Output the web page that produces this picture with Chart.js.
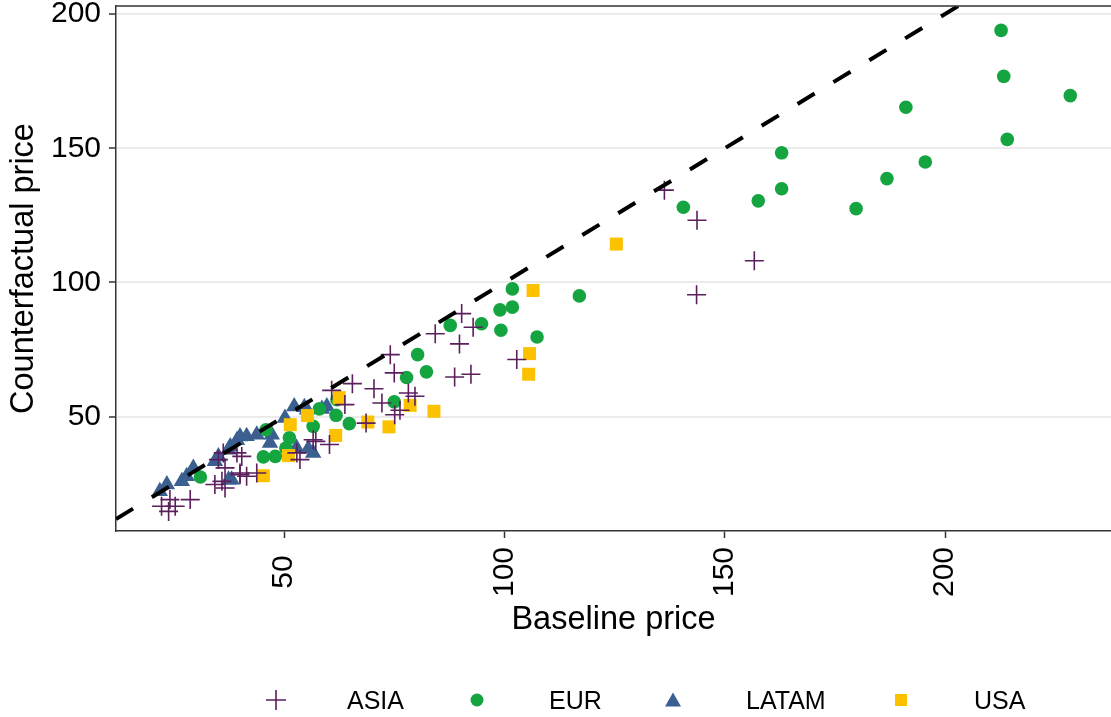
<!DOCTYPE html>
<html lang="en">
<head>
    <meta charset="UTF-8">
    <title>Counterfactual vs baseline price</title>
    <script src="https://cdn.jsdelivr.net/npm/chart.js"></script>
    <style>
        body {
            margin: 0;
            background: #ffffff;
            font-family: "Liberation Sans", Arial, sans-serif;
        }
        .wrap {
            position: relative;
            width: 1111px;
            height: 717px;
        }
        .legend {
            position: absolute;
            left: 0;
            top: 686px;
            width: 1111px;
            height: 28px;
            font-size: 25px;
            color: #000;
        }
        .legend span {
            position: absolute;
            top: 0;
            line-height: 28px;
        }
        .legend svg {
            position: absolute;
            top: 4px;
        }
    </style>
</head>
<body>
    <div class="wrap">
        <canvas id="myChart" width="1111" height="717"></canvas>
        <div class="legend">
            <svg style="left:266px" width="20" height="20"><path d="M10 0V20M0 10H20" stroke="#5b1f5e" stroke-width="1.6"/></svg>
            <span style="left:347px">ASIA</span>
            <svg style="left:467px" width="20" height="20"><circle cx="10" cy="10" r="6.5" fill="#14a440"/></svg>
            <span style="left:549px">EUR</span>
            <svg style="left:663px" width="20" height="20"><polygon points="10,2.5 18,16.5 2,16.5" fill="#3b5f8f"/></svg>
            <span style="left:746px">LATAM</span>
            <svg style="left:891px" width="20" height="20"><rect x="4" y="4" width="12" height="12" fill="#fcc200"/></svg>
            <span style="left:974px">USA</span>
        </div>
    </div>

    <script>
        // values
        const asiaX = [136.3, 143.7, 156.7, 143.6, 90.3, 92.9, 84.3, 89.8, 74.1, 75.0, 88.7, 92.4, 102.8, 65.5, 60.8,
                       70.4, 72.2, 76.3, 78.2, 79.7, 75.1, 60.3, 56.6, 57.2, 52.9, 53.6, 63.8, 68.6, 41.5, 40.0,
                       39.3, 43.8, 22.2, 23.8, 25.3, 28.7, 24.1, 35.1, 35.9, 36.6, 34.3, 40.0, 36.2, 40.4, 36.6];
        const asiaY = [134.4, 123.2, 108.1, 95.4, 88.4, 83.3, 80.9, 77.1, 73.1, 66.3, 64.8, 65.8, 71.3, 62.3, 59.8,
                       60.4, 55.1, 52.4, 58.8, 57.6, 50.7, 39.6, 41.4, 40.8, 36.5, 34.0, 54.5, 47.6, 27.8, 29.0,
                       36.5, 29.0, 16.6, 14.7, 16.6, 19.1, 19.1, 34.0, 25.9, 23.4, 24.7, 28.4, 36.5, 35.2, 30.9];

        const eurX = [212.7, 213.3, 228.4, 191.1, 214.1, 195.5, 186.8, 179.8, 162.9, 162.9, 157.6, 140.6, 117.0, 101.8,
                      99.0, 101.8, 94.8, 99.2, 107.4, 87.7, 80.3, 82.3, 77.8, 75.0, 64.8, 61.8, 56.6, 62.0, 58.0,
                      51.2, 48.0, 45.3, 50.4, 31.0, 45.9];
        const eurY = [193.9, 176.8, 169.6, 165.3, 153.3, 144.9, 138.7, 127.5, 148.3, 134.9, 130.4, 128.0, 95.0, 97.6,
                      89.8, 90.8, 84.6, 82.2, 79.7, 84.0, 73.1, 66.7, 64.6, 55.5, 47.4, 50.5, 46.4, 56.3, 52.9,
                      42.1, 35.2, 35.0, 38.3, 27.5, 45.1];

        const latamX = [52.3, 54.6, 59.7, 55.2, 50.2, 47.2, 43.8, 41.5, 39.3, 46.8, 55.5, 56.6, 52.8, 38.1, 21.8,
                        23.4, 27.9, 29.4, 26.8, 34.3, 37.4, 37.8, 40.0, 35.1, 37.4, 58.6];
        const latamY = [53.8, 53.5, 53.8, 52.6, 49.5, 43.3, 43.3, 42.7, 41.2, 40.2, 38.0, 36.5, 38.4, 26.5, 22.2,
                        24.7, 27.8, 30.9, 25.9, 33.4, 26.5, 38.9, 42.6, 35.2, 37.7, 52.9];

        const usaX = [125.4, 106.5, 105.7, 105.5, 78.6, 84.0, 69.0, 73.8, 62.5, 61.7, 55.3, 51.4, 51.0, 45.3];
        const usaY = [114.3, 97.0, 73.5, 65.8, 54.2, 52.0, 48.0, 46.2, 57.1, 43.0, 50.4, 47.0, 35.5, 28.0];

        const xTicks = [50, 100, 150, 200];
        const yTicks = [50, 100, 150, 200];
        const xRange = [11.86, 237.64];
        const yRange = [7.4, 203.0];

        const pts = (xs, ys) => xs.map((x, i) => ({ x: x, y: ys[i] }));

        const frame = {
            id: 'frame',
            afterDraw(chart) {
                const { ctx, chartArea: a } = chart;
                ctx.save();
                ctx.strokeStyle = '#333333';
                ctx.lineWidth = 1.5;
                ctx.beginPath();
                ctx.moveTo(a.left, a.top);
                ctx.lineTo(a.right, a.top);
                ctx.stroke();
                ctx.restore();
            }
        };

        const ctx = document.getElementById('myChart').getContext('2d');
        new Chart(ctx, {
            type: 'scatter',
            data: {
                datasets: [
                    {
                        type: 'line',
                        label: '45 degree',
                        data: [{ x: xRange[0], y: xRange[0] }, { x: xRange[1], y: xRange[1] }],
                        borderColor: '#000000',
                        borderWidth: 4,
                        borderDash: [20, 22],
                        pointRadius: 0,
                        order: -1
                    },
                    {
                        label: 'ASIA',
                        data: pts(asiaX, asiaY),
                        pointStyle: 'cross',
                        pointRadius: 9.5,
                        borderColor: '#5b1f5e',
                        borderWidth: 1.6,
                        order: 0
                    },
                    {
                        label: 'USA',
                        data: pts(usaX, usaY),
                        pointStyle: 'rect',
                        pointRadius: 9.2,
                        backgroundColor: '#fcc200',
                        borderWidth: 0,
                        order: 1
                    },
                    {
                        label: 'EUR',
                        data: pts(eurX, eurY),
                        pointStyle: 'circle',
                        pointRadius: 6.8,
                        backgroundColor: '#14a440',
                        borderWidth: 0,
                        order: 2
                    },
                    {
                        label: 'LATAM',
                        data: pts(latamX, latamY),
                        pointStyle: 'triangle',
                        pointRadius: 9.5,
                        backgroundColor: '#3b5f8f',
                        borderWidth: 0,
                        order: 3
                    }
                ]
            },
            options: {
                responsive: false,
                animation: false,
                events: [],
                layout: { autoPadding: false, padding: { top: 6, right: 0, bottom: 0, left: 0 } },
                plugins: {
                    legend: { display: false },
                    tooltip: { enabled: false }
                },
                scales: {
                    x: {
                        type: 'linear',
                        min: xRange[0],
                        max: xRange[1],
                        afterBuildTicks: s => { s.ticks = xTicks.map(v => ({ value: v })); },
                        afterFit: s => { s.height = 186; s.paddingLeft = 0; s.paddingRight = 0; },
                        ticks: {
                            autoSkip: false,
                            minRotation: 90,
                            maxRotation: 90,
                            padding: 9,
                            color: '#000000',
                            font: { family: '"Liberation Sans", Arial, sans-serif', size: 30 },
                            callback: v => (v < 100 ? v + ' ' : String(v))
                        },
                        grid: { drawOnChartArea: false, tickLength: 7, tickColor: '#333333', tickWidth: 1.5 },
                        border: { color: '#333333', width: 1.5 },
                        title: {
                            display: true,
                            text: 'Baseline price',
                            color: '#000000',
                            font: { family: '"Liberation Sans", Arial, sans-serif', size: 32.5 },
                            padding: { top: 0, bottom: 77 }
                        }
                    },
                    y: {
                        type: 'linear',
                        min: yRange[0],
                        max: yRange[1],
                        afterBuildTicks: s => { s.ticks = yTicks.map(v => ({ value: v })); },
                        afterFit: s => { s.width = 116; s.paddingTop = 0; s.paddingBottom = 0; },
                        ticks: {
                            padding: 8,
                            color: '#000000',
                            font: { family: '"Liberation Sans", Arial, sans-serif', size: 30 }
                        },
                        grid: { color: '#ebebeb', lineWidth: 2, tickLength: 7, tickColor: '#333333', tickWidth: 1.5 },
                        border: { color: '#333333', width: 1.5 },
                        title: {
                            display: true,
                            text: 'Counterfactual price',
                            color: '#000000',
                            font: { family: '"Liberation Sans", Arial, sans-serif', size: 32.5 },
                            padding: { top: 5, bottom: 5 }
                        }
                    }
                }
            },
            plugins: [frame]
        });
    </script>
</body>
</html>
